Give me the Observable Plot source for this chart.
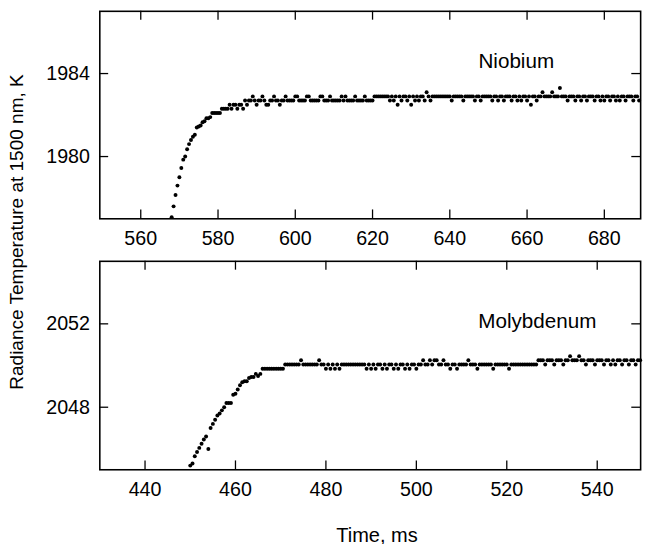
<!DOCTYPE html>
<html><head><meta charset="utf-8">
<script src="https://cdn.jsdelivr.net/npm/d3@7"></script>
<script src="https://cdn.jsdelivr.net/npm/@observablehq/plot@0.6"></script>
<style>
html,body{margin:0;padding:0;background:#fff;overflow:hidden;}
#wrap{position:relative;width:649px;height:544px;overflow:hidden;font-family:"Liberation Sans",Arial,sans-serif;color:#000;}
#wrap svg{display:block;}
.ylab{position:absolute;left:17px;top:232px;transform:translate(-50%,-50%) rotate(-90deg);white-space:nowrap;font-size:19px;}
.xlab{position:absolute;left:377px;top:535px;transform:translate(-50%,-50%);white-space:nowrap;font-size:20px;}
</style></head><body>
<div id="wrap"><div id="top"></div><div id="bot"></div>
<div class="ylab">Radiance Temperature at 1500 nm, K</div>
<div class="xlab">Time, ms</div></div>
<script>
// sampling grid (ms)
const nbStart = 568.0, moStart = 450.0, sampleStep = 0.5;
// Niobium radiance temperature, K (one value per 0.5 ms from 568 ms)
const nbTemp = [
1977.08,1977.6,1978.15,1978.6,1979.0,1979.45,1979.85,1980.0,1980.35,1980.6,
1980.8,1980.95,1981.05,1981.4,1981.45,1981.5,1981.65,1981.7,1981.85,1981.85,
1981.9,1982.1,1982.1,1982.1,1982.1,1982.1,1982.3,1982.3,1982.3,1982.3,
1982.5,1982.3,1982.5,1982.5,1982.3,1982.5,1982.5,1982.3,
1982.7,1982.5,1982.7,1982.7,1982.9,1982.7,1982.5,1982.7,1982.7,1982.9,
1982.7,1982.5,1982.5,1982.7,1982.7,1982.9,1982.7,1982.7,1982.5,1982.7,
1982.7,1982.9,1982.7,1982.7,1982.7,1982.7,1982.9,1982.9,1982.7,1982.7,
1982.7,1982.7,1982.9,1982.9,1982.7,1982.7,1982.7,1982.7,1982.7,1982.9,
1982.9,1982.7,1982.7,1982.7,1982.9,1982.7,1982.7,1982.7,1982.7,1982.7,
1982.9,1982.7,1982.9,1982.7,1982.7,1982.7,1982.7,1982.9,1982.7,1982.7,
1982.7,1982.7,1982.9,1982.7,1982.7,1982.7,1982.7,1982.9,1982.9,1982.9,
1982.9,1982.9,1982.9,1982.9,1982.9,1982.7,1982.9,1982.7,1982.9,1982.5,
1982.9,1982.7,1982.9,1982.9,1982.7,1982.9,1982.5,1982.9,1982.7,1982.9,
1982.7,1982.9,1982.9,1982.7,1983.1,1982.9,1982.7,1982.9,1982.9,1982.9,
1982.9,1982.9,1982.9,1982.9,1982.9,1982.9,1982.9,1982.7,1982.9,1982.9,
1982.9,1982.9,1982.9,1982.7,1982.9,1982.9,1982.9,1982.9,1982.9,1982.7,
1982.9,1982.9,1982.7,1982.9,1982.9,1982.9,1982.9,1982.9,1982.7,1982.9,
1982.9,1982.7,1982.9,1982.9,1982.7,1982.9,1982.9,1982.9,1982.7,1982.9,
1982.9,1982.7,1982.9,1982.7,1982.9,1982.9,1982.7,1982.9,1982.5,1982.9,
1982.9,1982.7,1982.9,1982.9,1983.1,1982.9,1982.9,1982.9,1982.9,1983.1,
1982.9,1982.9,1982.9,1983.3,1982.9,1982.9,1982.9,1982.7,1982.9,1982.9,
1982.9,1982.7,1982.9,1982.9,1982.7,1982.9,1982.9,1982.7,1982.9,1982.9,
1982.9,1982.7,1982.9,1982.9,1982.7,1982.9,1982.7,1982.9,1982.9,1982.7,
1982.9,1982.9,1982.7,1982.9,1982.7,1982.9,1982.9,1982.7,1982.9,1982.9,
1982.9,1982.7,1982.9,1982.9,1982.7
];
// Molybdenum radiance temperature, K (one value per 0.5 ms from 450 ms)
const moTemp = [
2045.2,2045.3,2045.65,2045.85,2046.05,2046.25,2046.45,2046.6,2046.0,2047.0,
2047.2,2047.4,2047.6,2047.7,2047.85,2048.0,2048.2,2048.2,2048.2,2048.6,
2048.65,2048.85,2049.05,2049.2,2049.25,2049.25,2049.4,2049.45,2049.45,2049.6,
2049.5,2049.6,
2049.85,2049.85,2049.85,2049.85,2049.85,2049.85,2049.85,2049.85,2049.85,2049.85,
2050.05,2050.05,2050.05,2050.05,2050.05,2050.05,2050.05,2050.25,2050.05,2050.05,
2050.05,2050.05,2050.05,2050.05,2050.05,2050.25,2050.05,2050.05,2049.85,2050.05,
2049.85,2050.05,2049.85,2050.05,2049.85,2050.05,2050.05,2050.05,2050.05,2050.05,
2050.05,2050.05,2050.05,2050.05,2050.05,2050.05,2049.85,2050.05,2049.85,2050.05,
2049.85,2050.05,2050.05,2049.85,2050.05,2049.85,2050.05,2050.05,2049.85,2050.05,
2049.85,2050.05,2050.05,2049.85,2050.05,2049.85,2050.05,2050.05,2049.85,2050.05,
2050.05,2050.25,2050.05,2050.05,2050.25,2050.05,2050.25,2050.25,2050.05,2050.05,
2050.25,2050.05,2050.05,2049.85,2050.05,2050.05,2049.85,2050.05,2050.05,2050.05,
2050.05,2050.25,2050.05,2050.05,2050.05,2049.85,2050.05,2050.05,2050.05,2050.05,
2050.05,2050.05,2049.85,2050.05,2050.05,2050.05,2050.05,2050.05,2050.05,2049.85,
2050.05,2050.05,2050.05,2050.05,2050.05,2050.05,2050.05,2050.05,2050.05,2050.05,
2050.05,2050.05,2050.25,2050.25,2050.25,2050.05,2050.25,2050.25,2050.25,2050.05,
2050.25,2050.25,2050.25,2050.05,2050.25,2050.25,2050.45,2050.25,2050.25,2050.25,
2050.45,2050.25,2050.25,2050.05,2050.25,2050.25,2050.25,2050.05,2050.25,2050.25,
2050.25,2050.05,2050.25,2050.25,2050.05,2050.25,2050.05,2050.25,2050.25,2050.05,
2050.25,2050.25,2050.05,2050.25,2050.25,2050.05,2050.25,2050.25
];
const nbXTicks = [560,580,600,620,640,660,680];
const nbYTicks = [1980,1984];
const moXTicks = [440,460,480,500,520,540];
const moYTicks = [2048,2052];
const nbXDomain = [549.4, 689.4], nbYDomain = [1977, 1987];
const moXDomain = [430, 549.6], moYDomain = [2045, 2055];

const nbData = nbTemp.map((v,i) => ({t: nbStart + i*sampleStep, v}));
const moData = moTemp.map((v,i) => ({t: moStart + i*sampleStep, v}));

const FONT = '"Liberation Sans", Arial, Helvetica, sans-serif';
function panel(o) {
  const W = 660, ML = 101, MR = 9, TK = 9;
  const plotW = W - ML - MR;
  const fmt = d => String(d);
  return Plot.plot({
    width: W, height: o.mt + o.ph + o.mb,
    marginLeft: ML, marginRight: MR, marginTop: o.mt, marginBottom: o.mb,
    style: {fontFamily: FONT, fontSize: "20px", color: "#000", background: "#fff", overflow: "visible"},
    x: {domain: o.xDomain}, y: {domain: o.yDomain},
    marks: [
      Plot.axisX(o.xTicks, {anchor: "bottom", tickSize: 0, tickPadding: 12, tickFormat: fmt, fill: "#000", label: null}),
      Plot.axisY(o.yTicks, {anchor: "left", tickSize: 0, tickPadding: 10, tickFormat: fmt, fill: "#000", label: null}),
      Plot.tickX(o.xTicks, {x: d => d, insetTop: o.ph - TK, stroke: "#000", strokeWidth: 1.3}),
      Plot.tickX(o.xTicks, {x: d => d, insetBottom: o.ph - TK, stroke: "#000", strokeWidth: 1.3}),
      Plot.tickY(o.yTicks, {y: d => d, insetRight: plotW - TK, stroke: "#000", strokeWidth: 1.3}),
      Plot.tickY(o.yTicks, {y: d => d, insetLeft: plotW - TK, stroke: "#000", strokeWidth: 1.3}),
      Plot.dot(o.data, {x: "t", y: "v", r: 2, fill: "#000", stroke: null}),
      Plot.frame({stroke: "#000", strokeWidth: 1.6}),
      Plot.text([o.label], {frameAnchor: "top-right", dx: o.ldx, dy: o.ldy, textAnchor: "end", fontSize: 21, fill: "#000"})
    ]
  });
}
document.getElementById("top").append(panel({
  data: nbData, xDomain: nbXDomain, yDomain: nbYDomain, xTicks: nbXTicks, yTicks: nbYTicks,
  label: "Niobium", ldx: -88, ldy: 43, mt: 11, ph: 211, mb: 32
}));
document.getElementById("bot").append(panel({
  data: moData, xDomain: moXDomain, yDomain: moYDomain, xTicks: moXTicks, yTicks: moYTicks,
  label: "Molybdenum", ldx: -45, ldy: 53, mt: 11, ph: 212, mb: 67
}));
</script>
</body></html>
